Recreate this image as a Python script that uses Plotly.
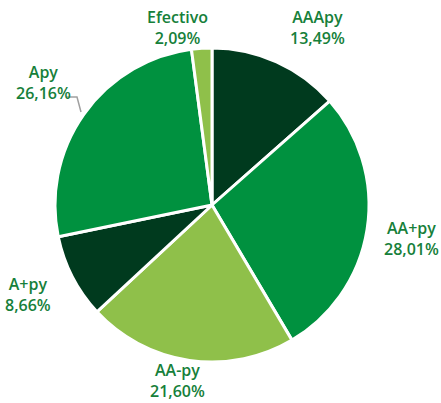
import plotly.graph_objects as go

categories = ["AAApy", "AA+py", "AA-py", "A+py", "Apy", "Efectivo"]
values = [13.49, 28.01, 21.60, 8.66, 26.16, 2.09]
value_labels = ["13,49%", "28,01%", "21,60%", "8,66%", "26,16%", "2,09%"]

DARK = "#003a1e"
MID = "#00913f"
LIGHT = "#8fc04a"
slice_colors = [DARK, MID, LIGHT, DARK, MID, LIGHT]
TEXT = "#16803a"

W, H = 441, 403

fig = go.Figure(go.Pie(
    labels=categories,
    values=values,
    sort=False,
    direction="clockwise",
    rotation=0,
    marker=dict(colors=slice_colors, line=dict(color="white", width=3)),
    textinfo="none",
    hoverinfo="label+percent",
    showlegend=False,
    domain=dict(x=[55 / W, 369 / W], y=[1 - 362 / H, 1 - 48 / H]),
))

# label anchor positions in pixels (layout only)
label_pos = {
    "AAApy": (317, 28),
    "AA+py": (411, 238),
    "AA-py": (177, 380),
    "A+py": (28, 294),
    "Apy": (43, 82),
    "Efectivo": (177, 28),
}

for cat, lab in zip(categories, value_labels):
    px, py = label_pos[cat]
    fig.add_annotation(
        x=px / W, y=1 - py / H, xref="paper", yref="paper",
        text=f"{cat}<br>{lab}", showarrow=False,
        font=dict(family="Open Sans", size=16, color=TEXT, weight=600),
        align="center", xanchor="center", yanchor="middle",
        borderpad=0,
    )

# leader line for Apy
fig.add_shape(type="path", xref="paper", yref="paper",
              path=f"M {66/W},{1-97/H} L {77/W},{1-97/H} L {81/W},{1-112/H}",
              line=dict(color="#a0a0a0", width=1.5))

fig.update_layout(
    width=W, height=H,
    margin=dict(l=0, r=0, t=0, b=0),
    paper_bgcolor="white", plot_bgcolor="white",
)

fig.write_html("out.html", config={"displayModeBar": False},
               post_script="document.body.style.margin='0';document.body.style.overflow='hidden';")
